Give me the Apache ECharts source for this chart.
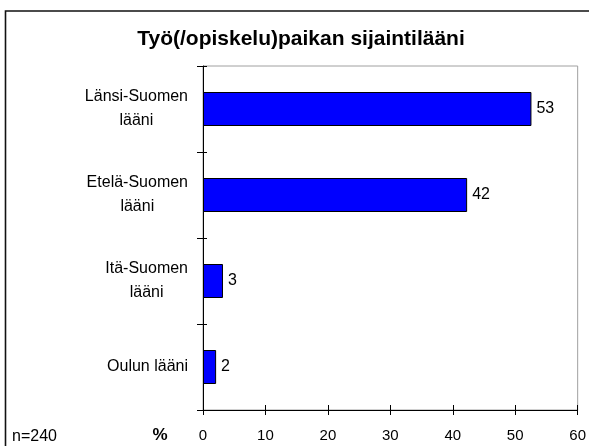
<!DOCTYPE html>
<html>
<head>
<meta charset="utf-8">
<script src="https://cdn.jsdelivr.net/npm/echarts@6/dist/echarts.min.js"></script>
<style>
html,body{margin:0;padding:0;background:#fff;}
#c{width:589px;height:446px;}
</style>
</head>
<body>
<div id="c"></div>
<script>
const titleText = 'Työ(/opiskelu)paikan sijaintilääni';
const categories = ['Länsi-Suomen\nlääni', 'Etelä-Suomen\nlääni', 'Itä-Suomen\nlääni', 'Oulun lääni'];
const values = [52.6, 42.3, 3.2, 2.1];
const xTicks = [0, 10, 20, 30, 40, 50, 60];
const unitLabel = '%';
const noteLabel = 'n=240';

const FONT = "'Liberation Sans', Arial, sans-serif";
const chart = echarts.init(document.getElementById('c'), null, {renderer: 'canvas'});

const xMin = xTicks[0], xMax = xTicks[xTicks.length - 1], xStep = xTicks[1] - xTicks[0];

const option = {
  animation: false,
  backgroundColor: '#fff',
  textStyle: {fontFamily: FONT},
  grid: {left: 203, right: 11, top: 66, bottom: 36, show: true, borderColor: '#a0a0a0', borderWidth: 1, backgroundColor: 'transparent'},
  xAxis: [{
    type: 'value', position: 'bottom', min: xMin, max: xMax, interval: xStep,
    axisLine: {show: true, lineStyle: {color: '#000', width: 1}},
    axisTick: {show: true, inside: false, length: 5, lineStyle: {color: '#000'}},
    axisLabel: {fontSize: 15, color: '#000', margin: 18, fontFamily: FONT},
    splitLine: {show: false}
  }, {
    type: 'value', position: 'bottom', min: xMin, max: xMax, interval: xStep,
    axisLine: {show: false},
    axisTick: {show: true, inside: true, length: 5, lineStyle: {color: '#000'}},
    axisLabel: {show: false},
    splitLine: {show: false}
  }],
  yAxis: [{
    type: 'category', position: 'left', inverse: true, data: categories,
    axisLine: {show: true, lineStyle: {color: '#000', width: 1}},
    axisTick: {show: true, inside: false, length: 6, lineStyle: {color: '#000'}},
    axisLabel: {
      margin: 15, color: '#000', fontSize: 16, fontFamily: FONT, lineHeight: 24,
      formatter: v => v.split('\n').map(s => '{c|' + s + '}').join('\n'),
      rich: {c: {align: 'center', fontSize: 16, lineHeight: 24, color: '#000', fontFamily: FONT}}
    },
    splitLine: {show: false}
  }, {
    type: 'category', position: 'left', inverse: true, data: categories,
    axisLine: {show: false},
    axisTick: {show: true, inside: true, length: 4, lineStyle: {color: '#000'}},
    axisLabel: {show: false},
    splitLine: {show: false}
  }],
  series: [{
    type: 'bar', xAxisIndex: 0, yAxisIndex: 0, data: values, barWidth: 34,
    itemStyle: {color: '#0000ff', borderColor: '#000', borderWidth: 1},
    label: {show: true, position: 'right', distance: 5, color: '#000', fontSize: 16, fontFamily: FONT,
      formatter: p => String(Math.round(p.value))}
  }],
  graphic: [
    {type: 'rect', shape: {x: 5.5, y: 11, width: 640, height: 500}, style: {fill: 'none', stroke: '#111', lineWidth: 1.6}, silent: true},
    {type: 'text', x: 301, y: 39, style: {text: titleText, font: "bold 21px " + FONT, fill: '#000', textAlign: 'center', textVerticalAlign: 'middle'}},
    {type: 'text', x: 160, y: 435, style: {text: unitLabel, font: "bold 17px " + FONT, fill: '#000', textAlign: 'center', textVerticalAlign: 'middle'}},
    {type: 'text', x: 12, y: 437, style: {text: noteLabel, font: "16px " + FONT, fill: '#000', textAlign: 'left', textVerticalAlign: 'middle'}}
  ]
};
chart.setOption(option);
</script>
</body>
</html>
